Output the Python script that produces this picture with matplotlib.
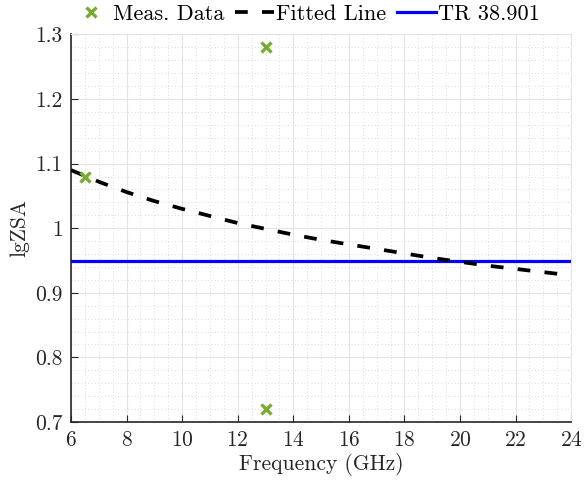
import numpy as np
import matplotlib
matplotlib.use("Agg")
import matplotlib.pyplot as plt
from matplotlib.ticker import MultipleLocator

# ---- data ----
meas_freq = [6.5, 13, 13]
meas_lgzsa = [1.08, 1.28, 0.72]

fit_freq = [6, 7, 8, 9, 10, 11, 12, 13, 14, 15, 16, 17, 18, 19, 20, 21, 22, 23, 24]
fit_lgzsa = [1.090, 1.072, 1.056, 1.042, 1.030, 1.019, 1.008, 0.999, 0.990,
             0.982, 0.975, 0.968, 0.961, 0.954, 0.948, 0.942, 0.937, 0.932, 0.927]

tr_freq = [6, 24]
tr_lgzsa = [0.95, 0.95]

plt.rcParams['font.family'] = 'serif'
plt.rcParams['font.serif'] = ['cmr10']
plt.rcParams['mathtext.fontset'] = 'cm'
plt.rcParams['axes.formatter.use_mathtext'] = True

fig = plt.figure(figsize=(5.84, 4.87), dpi=100)
ax = fig.add_axes([0.1216, 0.1335, 0.8564, 0.7957])

ax.plot(meas_freq, meas_lgzsa, 'x', color='#77AC30', ms=7.5, mew=2.4, label='Meas. Data', zorder=5)
ax.plot(fit_freq, fit_lgzsa, '--', color='black', lw=2.7, dashes=(3.4, 3.8), label='Fitted Line', zorder=4)
ax.plot(tr_freq, tr_lgzsa, '-', color='#0000ff', lw=2.3, label='TR 38.901', zorder=3)

ax.set_xlim(6, 24)
ax.set_ylim(0.7, 1.3)
ax.xaxis.set_major_locator(MultipleLocator(2))
ax.xaxis.set_minor_locator(MultipleLocator(0.5))
ax.yaxis.set_major_locator(MultipleLocator(0.1))
ax.yaxis.set_minor_locator(MultipleLocator(0.02))
ax.set_yticks([0.7, 0.8, 0.9, 1.0, 1.1, 1.2, 1.3])
ax.set_yticklabels(['0.7', '0.8', '0.9', '1', '1.1', '1.2', '1.3'])

ax.grid(which='major', color='#e3e3e3', lw=0.8)
ax.grid(which='minor', color='#d0d0d0', lw=0.6, ls=(0, (1, 3)))
ax.set_axisbelow(True)

for s in ['top', 'right']:
    ax.spines[s].set_color('#e3e3e3')
for s in ['left', 'bottom']:
    ax.spines[s].set_color('#262626')
    ax.spines[s].set_linewidth(1.2)

ax.tick_params(which='major', direction='in', length=5, labelsize=15.5, colors='#262626', pad=6)
ax.tick_params(which='minor', length=0)

ax.set_xlabel('Frequency (GHz)', fontsize=15.5, color='#262626', labelpad=2)
ax.set_ylabel('lgZSA', fontsize=15.5, color='#262626', labelpad=4)

ax.legend(loc='lower center', bbox_to_anchor=(0.469, 1.005), ncol=3, frameon=False,
          fontsize=16, handlelength=1.75, handletextpad=0.08, columnspacing=0.5,
          borderaxespad=0)

fig.savefig('out.png', dpi=100)
